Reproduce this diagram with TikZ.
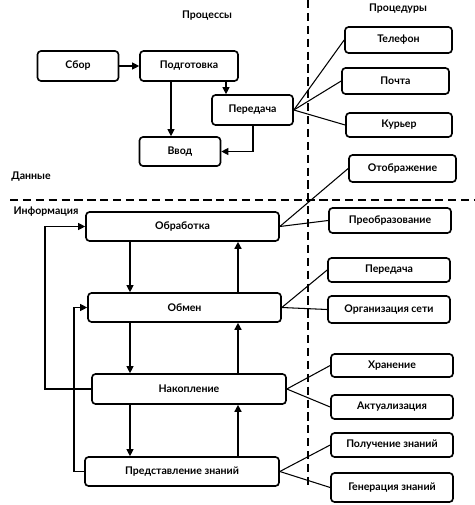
\documentclass[tikz,border=0pt]{standalone}
\usepackage{fontspec}
\setmainfont{Lato}
\usetikzlibrary{arrows.meta}
\tikzset{
    box/.style={draw, line width=1.4pt, rounded corners=3pt, minimum height=0.78cm, inner sep=1pt, font=\fontsize{9}{10}\selectfont\bfseries},
    arr/.style={-{Triangle[length=6pt,width=6pt]}, line width=0.9pt},
    lnk/.style={line width=0.9pt},
    sep/.style={line width=1.4pt, dash pattern=on 7pt off 4pt},
    lbl/.style={font=\fontsize{9}{10}\selectfont\bfseries}
}
\begin{document}
\begin{tikzpicture}[x=0.03cm, y=-0.03cm]
                \useasboundingbox (0,0) rectangle (474,505);
                % Процессы
                \node[box, minimum width=2.43cm, minimum height=0.9cm] (sbor) at (78,66) {Сбор};
                \node[box, minimum width=2.94cm, minimum height=0.9cm] (podg) at (189,66) {Подготовка};
                \node[box, minimum width=2.43cm, minimum height=0.87cm] (vvod) at (180,151.5) {Ввод};
                \node[box, minimum width=2.43cm, minimum height=0.9cm] (pered) at (252.5,110) {Передача};
                % Процедуры
                \node[box, minimum width=3.21cm] (tel) at (398.5,40) {Телефон};
                \node[box, minimum width=3.21cm] (pocht) at (395.5,81) {Почта};
                \node[box, minimum width=3.18cm, minimum height=0.72cm] (kur) at (399,125) {Курьер};
                \node[box, minimum width=3.21cm, minimum height=0.81cm] (otob) at (402.5,168.5) {Отображение};
                % Информация
                \node[box, minimum width=5.79cm, minimum height=0.87cm] (obr) at (182.5,226.5) {Обработка};
                \node[box, minimum width=5.79cm, minimum height=0.87cm] (obm) at (184.5,307.5) {Обмен};
                \node[box, minimum width=5.82cm, minimum height=0.9cm] (nak) at (189,389) {Накопление};
                \node[box, minimum width=5.82cm, minimum height=0.87cm] (pred) at (182,471.5) {Представление знаний};
                \node[box, minimum width=3.66cm, minimum height=0.75cm] (preob) at (390,220.5) {Преобразование};
                \node[box, minimum width=3.66cm, minimum height=0.72cm] (pered2) at (389,270) {Передача};
                \node[box, minimum width=3.66cm, minimum height=0.81cm] (org) at (389,309.5) {Организация сети};
                \node[box, minimum width=3.66cm, minimum height=0.69cm] (hran) at (392,365.5) {Хранение};
                \node[box, minimum width=3.66cm, minimum height=0.72cm] (akt) at (392,407) {Актуализация};
                \node[box, minimum width=3.66cm, minimum height=0.72cm] (polz) at (392,445) {Получение знаний};
                \node[box, minimum width=3.66cm, minimum height=0.87cm] (gen) at (392,487.5) {Генерация знаний};
                % подписи
                \node[lbl] (proc) at (207,16) {Процессы};
                \node[lbl] (procd) at (398,9) {Процедуры};
                \node[lbl] (dan) at (31,177) {Данные};
                \node[lbl] (inf) at (46,212) {Информация};
                % разделители
                \draw[sep] (308,0) -- (308,486);
                \draw[sep] (10,200) -- (474,200);
                % вспомогательные точки
                \coordinate (xa) at (226,0);
                \coordinate (xb) at (171,0);
                \coordinate (xc) at (253,0);
                \coordinate (xd) at (130,0);
                \coordinate (xu) at (238,0);
                \coordinate (xo) at (45,0);
                \coordinate (xi) at (74,0);
                % стрелки вверху
                \draw[arr] (sbor) -- (podg);
                \draw[arr] (podg.south -| xa) -- (pered.north -| xa);
                \draw[arr] (podg.south -| xb) -- (vvod.north -| xb);
                \draw[arr] (pered.south -| xc) |- (vvod.east);
                % стрелки внизу
                \draw[arr] (obr.south -| xd) -- (obm.north -| xd);
                \draw[arr] (obm.south -| xd) -- (nak.north -| xd);
                \draw[arr] (nak.south -| xd) -- (pred.north -| xd);
                \draw[arr, line width=1.3pt] (obm.north -| xu) -- (obr.south -| xu);
                \draw[arr, line width=1.3pt] (nak.north -| xu) -- (obm.south -| xu);
                \draw[arr, line width=1.3pt] (pred.north -| xu) -- (nak.south -| xu);
                \draw[arr, {Triangle[length=6pt,width=6pt]}-] (obr.west) -- (obr.west -| xo) -- (nak.west -| xo) -- (nak.west);
                \draw[arr, {Triangle[length=6pt,width=6pt]}-] (obm.west) -- (obm.west -| xi) -- (pred.west -| xi) -- (pred.west);
                % связи с процедурами
                \foreach \a/\b in {pered/tel, pered/pocht, pered/kur, obr/otob, obr/preob,
                    obm/pered2, obm/org, nak/hran, nak/akt, pred/polz, pred/gen}{
                    \draw[lnk] (\a.east) -- (\b.west);
                }
            \end{tikzpicture}
\end{document}
